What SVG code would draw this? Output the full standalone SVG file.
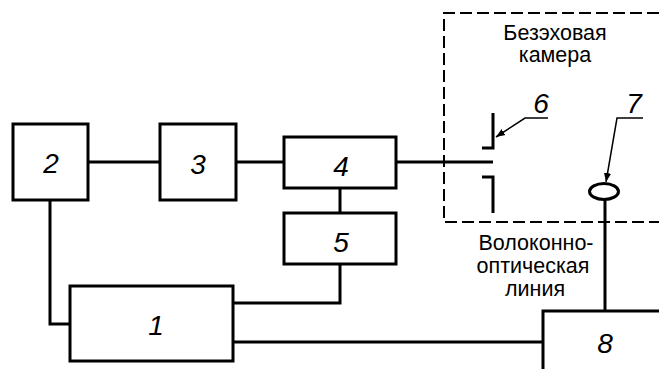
<svg xmlns="http://www.w3.org/2000/svg" width="659" height="369" viewBox="0 0 659 369">
<style>
.box{fill:#fff;stroke:#000;stroke-width:3}
.ln{fill:none;stroke:#000;stroke-width:3}
.thin{fill:none;stroke:#000;stroke-width:1.5}
.dash{fill:none;stroke:#000;stroke-width:2;stroke-dasharray:12 5}
.num{font-family:"Liberation Sans",Arial,sans-serif;font-size:28px;font-style:italic;text-anchor:middle}
.lbl{font-family:"Liberation Sans",Arial,sans-serif;font-size:21.5px;text-anchor:middle}
</style>
<defs>
<marker id="ah" viewBox="0 0 10 10" refX="10" refY="5" markerWidth="9" markerHeight="9" markerUnits="userSpaceOnUse" orient="auto">
<path d="M0,1 L10,5 L0,9 Z" fill="#000"/>
</marker>
</defs>
<rect width="659" height="369" fill="#fff"/>
<g id="chamber">
<path class="dash" d="M659,13 H444 V222 H659"/>
<text class="lbl" x="555" y="40">Безэховая</text>
<text class="lbl" x="555" y="62">камера</text>
</g>
<g id="connectors">
<path class="ln" d="M88,162 H160"/>
<path class="ln" d="M236,162 H284"/>
<path class="ln" d="M396,162 H493"/>
<path class="ln" d="M340,188 V213"/>
<path class="ln" d="M50,200 V324 H70"/>
<path class="ln" d="M340,264 V303 H233"/>
<path class="ln" d="M233,342 H543"/>
<path class="ln" d="M605,200 V311"/>
</g>
<g id="node2"><rect class="box" x="13" y="124" width="75" height="76"/><text class="num" x="51" y="173">2</text></g>
<g id="node3"><rect class="box" x="160" y="124" width="76" height="76"/><text class="num" x="198" y="174">3</text></g>
<g id="node4"><rect class="box" x="284" y="137" width="112" height="51"/><text class="num" x="341" y="176">4</text></g>
<g id="node5"><rect class="box" x="284" y="213" width="112" height="51"/><text class="num" x="341" y="252">5</text></g>
<g id="node1"><rect class="box" x="70" y="286" width="163" height="75"/><text class="num" x="156" y="335">1</text></g>
<g id="node8"><path class="ln" d="M543,369 V311 H659"/><text class="num" x="605" y="353">8</text></g>
<g id="node6">
<path class="ln" d="M493,113 V148 H482"/>
<path class="ln" d="M482,177 H493 V213"/>
<path class="thin" d="M548,118 H525 L496,137" marker-end="url(#ah)"/>
<text class="num" x="541" y="113">6</text>
</g>
<g id="node7">
<ellipse cx="604" cy="191.5" rx="14.5" ry="8" fill="#fff" stroke="#000" stroke-width="3"/>
<path class="thin" d="M643,118 H617 L606,182" marker-end="url(#ah)"/>
<text class="num" x="634" y="113">7</text>
</g>
<g id="fiber-label">
<text class="lbl" x="536" y="250">Волоконно-</text>
<text class="lbl" x="533" y="273">оптическая</text>
<text class="lbl" x="535" y="296">линия</text>
</g>
</svg>
